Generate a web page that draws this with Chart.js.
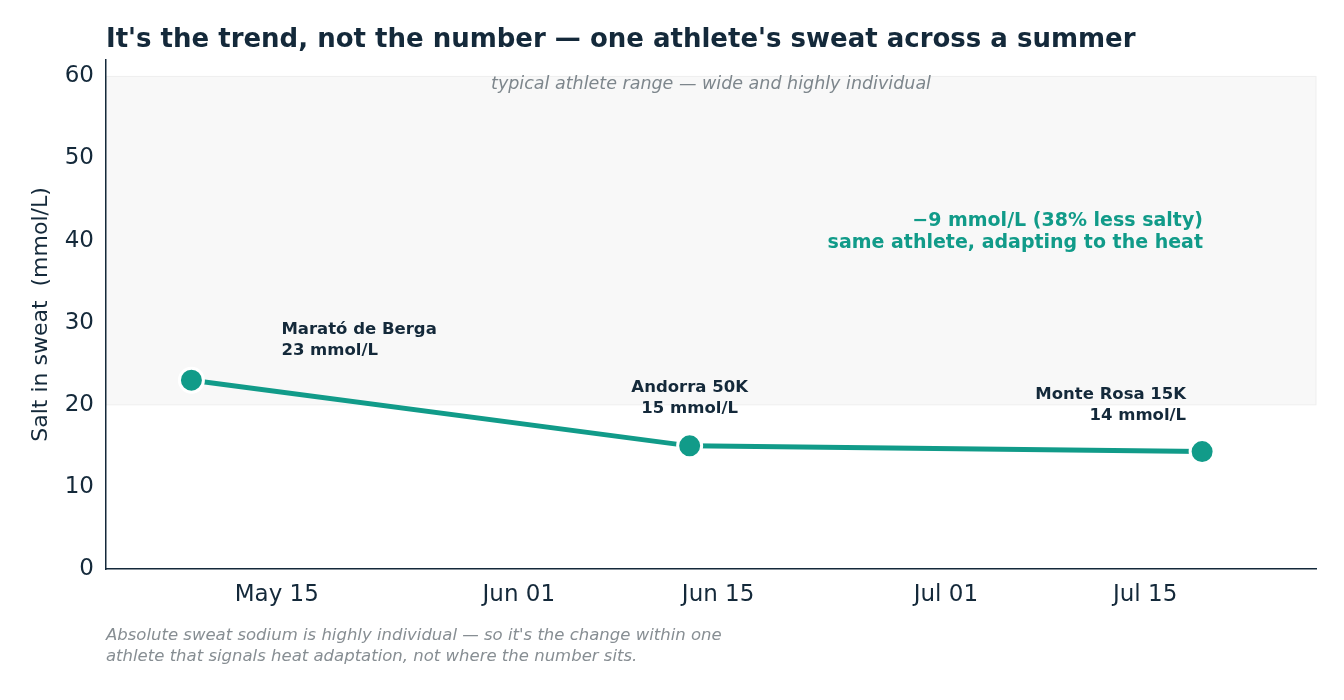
<!DOCTYPE html>
<html lang="en">
<head>
<meta charset="UTF-8" />
<title>Sweat sodium trend</title>
<script src="https://cdn.jsdelivr.net/npm/chart.js"></script>
<style>
  body { margin: 0; background: #fff; }
  #wrap { width: 1344px; height: 700px; }
</style>
</head>
<body>
<div id="wrap"><canvas id="c"></canvas></div>
<script>
  // x values are days since May 1
  const raceNames = ['Marató de Berga', 'Andorra 50K', 'Monte Rosa 15K'];
  const raceDays = [8, 43, 79];
  const sodium = [23, 15, 14.3];
  const sodiumLabels = ['23 mmol/L', '15 mmol/L', '14 mmol/L'];
  const tickDays = [14, 31, 45, 61, 75];
  const tickLabels = ['May 15', 'Jun 01', 'Jun 15', 'Jul 01', 'Jul 15'];
  const bandLow = 20, bandHigh = 60;

  const ink = '#14293a';
  const teal = '#119b89';
  const font = "'DejaVu Sans', sans-serif";

  const overlay = {
    id: 'overlay',
    beforeDraw(chart) {
      const { ctx, chartArea: a, scales: { y } } = chart;
      if (!y) return;
      ctx.save();
      const top = y.getPixelForValue(bandHigh), bot = y.getPixelForValue(bandLow);
      ctx.fillStyle = '#f8f8f8';
      ctx.fillRect(a.left, top, a.right - a.left, bot - top);
      ctx.strokeStyle = '#efefef';
      ctx.lineWidth = 1;
      ctx.strokeRect(a.left, top, a.right - a.left, bot - top);
      ctx.font = 'italic 17.5px ' + font;
      ctx.fillStyle = '#7d868c';
      ctx.textAlign = 'center';
      ctx.textBaseline = 'middle';
      ctx.fillText('typical athlete range — wide and highly individual', 711, top + 8);
      ctx.restore();
    },
    afterDraw(chart) {
      const { ctx, scales: { x, y } } = chart;
      ctx.save();
      ctx.textBaseline = 'middle';
      // title
      ctx.font = 'bold 26px ' + font;
      ctx.fillStyle = ink;
      ctx.textAlign = 'left';
      ctx.fillText("It's the trend, not the number — one athlete's sweat across a summer", 106, 40);
      // race labels
      ctx.font = 'bold 16.5px ' + font;
      const anchors = [
        { dx: 90, dy: -50, align: 'left' },
        { dx: 0, dy: -58, align: 'center' },
        { dx: -16, dy: -57, align: 'right' }
      ];
      raceDays.forEach((d, i) => {
        const px = x.getPixelForValue(d) + anchors[i].dx;
        const py = y.getPixelForValue(sodium[i]) + anchors[i].dy;
        ctx.textAlign = anchors[i].align;
        ctx.fillText(raceNames[i], px, py);
        ctx.fillText(sodiumLabels[i], px, py + 21);
      });
      // delta note
      ctx.font = 'bold 19px ' + font;
      ctx.fillStyle = teal;
      ctx.textAlign = 'right';
      ctx.fillText('−9 mmol/L (38% less salty)', 1203, 221);
      ctx.fillText('same athlete, adapting to the heat', 1203, 243);
      // footer
      ctx.font = 'italic 16.5px ' + font;
      ctx.fillStyle = '#878e93';
      ctx.textAlign = 'left';
      ctx.fillText("Absolute sweat sodium is highly individual — so it's the change within one", 106, 636);
      ctx.fillText('athlete that signals heat adaptation, not where the number sits.', 106, 657);
      ctx.restore();
    }
  };

  new Chart(document.getElementById('c'), {
    type: 'line',
    data: {
      datasets: [{
        data: raceDays.map((d, i) => ({ x: d, y: sodium[i] })),
        borderColor: teal,
        backgroundColor: teal,
        borderWidth: 5,
        pointRadius: 12,
        pointHoverRadius: 12,
        pointBorderColor: '#fff',
        pointBorderWidth: 3,
        tension: 0
      }]
    },
    options: {
      responsive: true,
      maintainAspectRatio: false,
      animation: false,
      layout: { padding: { top: 60, right: 28, bottom: 71, left: 28 } },
      plugins: { legend: { display: false }, tooltip: { enabled: false } },
      scales: {
        x: {
          type: 'linear',
          min: 2, max: 87,
          afterBuildTicks(s) { s.ticks = tickDays.map(v => ({ value: v })); },
          afterFit(s) { s.height = 60; },
          ticks: {
            color: ink, font: { family: font, size: 23 }, padding: 6,
            callback: v => tickLabels[tickDays.indexOf(v)] || ''
          },
          grid: { display: false, drawTicks: true, tickLength: 6, tickColor: ink },
          border: { color: ink, width: 1.5 }
        },
        y: {
          min: 0, max: 62,
          afterBuildTicks(s) { s.ticks = [0, 10, 20, 30, 40, 50, 60].map(v => ({ value: v })); },
          afterFit(s) { s.width = 78; },
          ticks: { color: ink, font: { family: font, size: 23 }, padding: 6 },
          grid: { display: false, tickLength: 6, tickColor: ink },
          border: { color: ink, width: 1.5 },
          title: { display: true, text: 'Salt in sweat  (mmol/L)', color: ink, font: { family: font, size: 22 }, padding: 0 }
        }
      }
    },
    plugins: [overlay]
  });
</script>
</body>
</html>
